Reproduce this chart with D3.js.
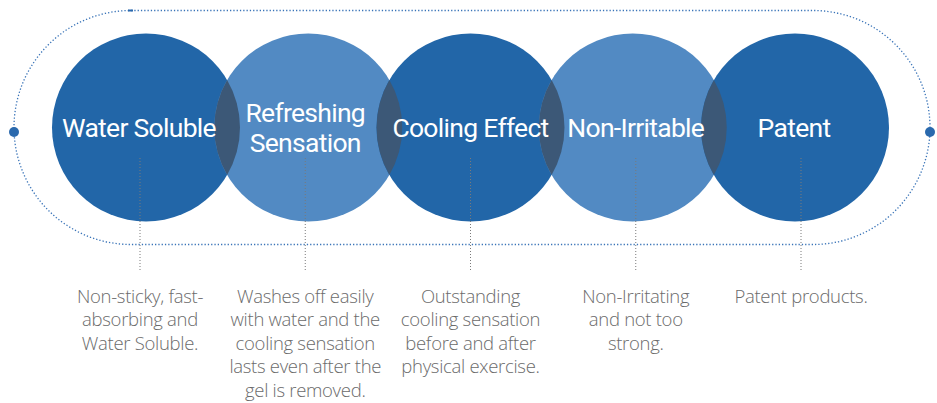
<!DOCTYPE html>
<html>
<head>
<meta charset="utf-8">
<script src="https://cdn.jsdelivr.net/npm/d3@7"></script>
<style>
  body { margin: 0; background: #fff; }
  svg { display: block; }
</style>
</head>
<body>
<div id="chart"></div>
<script>
// features shown in the circles
var labels = ["Water Soluble", "Refreshing Sensation", "Cooling Effect", "Non-Irritable", "Patent"];
var labelLines = [["Water Soluble"], ["Refreshing", "Sensation"], ["Cooling Effect"], ["Non-Irritable"], ["Patent"]];
var shades = ["dark", "light", "dark", "light", "dark"];
var descriptions = [
  ["Non-sticky, fast-", "absorbing and", "Water Soluble."],
  ["Washes off easily", "with water and the", "cooling sensation", "lasts even after the", "gel is removed."],
  ["Outstanding", "cooling sensation", "before and after", "physical exercise."],
  ["Non-Irritating", "and not too", "strong."],
  ["Patent products."]
];

var width = 937, height = 403;
var cy = 127.5, r = 94;
var colors = { dark: "#2266a8", light: "#528ac3" };

var svg = d3.select("#chart").append("svg")
    .attr("width", width)
    .attr("height", height);

// circle centres and annotation columns
var x = d3.scalePoint().domain(labels).range([146, 795]);
var xNote = d3.scalePoint().domain(labels).range([140, 801]);

// dotted stadium outline
svg.append("rect")
    .attr("x", 14).attr("y", 10.5)
    .attr("width", 916).attr("height", 234)
    .attr("rx", 117).attr("ry", 117)
    .attr("fill", "none")
    .attr("stroke", "#3a74b8")
    .attr("stroke-width", 1.3)
    .attr("stroke-dasharray", "1.3,2");

// end dots
svg.selectAll(".end-dot")
  .data([14, 930])
  .enter().append("circle")
    .attr("class", "end-dot")
    .attr("cx", d => d).attr("cy", 132)
    .attr("r", 5)
    .attr("fill", "#2a69ad");

svg.append("rect")
    .attr("x", 128).attr("y", 9.5)
    .attr("width", 5).attr("height", 2)
    .attr("fill", "#2a69ad");

// circles
svg.selectAll(".bubble")
  .data(labels)
  .enter().append("circle")
    .attr("class", "bubble")
    .attr("cx", d => x(d)).attr("cy", cy)
    .attr("r", r)
    .attr("fill", (d, i) => colors[shades[i]]);

// overlaps
var pairs = d3.pairs(labels);
svg.selectAll(".lens")
  .data(pairs)
  .enter().append("path")
    .attr("class", "lens")
    .attr("fill", "#3c5877")
    .attr("d", function(p) {
      var x0 = x(p[0]), x1 = x(p[1]);
      var mx = (x0 + x1) / 2, a = (x1 - x0) / 2;
      var h = Math.sqrt(r * r - a * a);
      return "M" + mx + "," + (cy - h) +
             "A" + r + "," + r + " 0 0 1 " + mx + "," + (cy + h) +
             "A" + r + "," + r + " 0 0 1 " + mx + "," + (cy - h) + "Z";
    });

// labels
var lab = svg.selectAll(".label")
  .data(labels)
  .enter().append("text")
    .attr("class", "label")
    .attr("text-anchor", "middle")
    .attr("fill", "#fff")
    .style("font-family", "Roboto, sans-serif")
    .style("font-size", "26.5px")
    .style("letter-spacing", "-0.7px");

lab.each(function(d, i) {
  var lines = labelLines[i];
  var t = d3.select(this);
  var y0 = cy + 9.5 - (lines.length - 1) * 15;
  lines.forEach(function(s, j) {
    t.append("tspan")
      .attr("x", i == 0 ? 139 : i == 4 ? 794 : xNote(d))
      .attr("y", y0 + j * 30)
      .text(s);
  });
});

// dotted connectors
svg.selectAll(".connector")
  .data(labels)
  .enter().append("line")
    .attr("class", "connector")
    .attr("x1", d => xNote(d)).attr("x2", d => xNote(d))
    .attr("y1", 158).attr("y2", 271)
    .attr("stroke", "#7a7a7a")
    .attr("stroke-width", 1)
    .attr("stroke-dasharray", "1,2");

// descriptions
var desc = svg.selectAll(".desc")
  .data(labels)
  .enter().append("text")
    .attr("class", "desc")
    .attr("text-anchor", "middle")
    .attr("fill", "#6b6b6b")
    .style("font-family", "'Open Sans', sans-serif")
    .style("font-weight", 300)
    .style("font-size", "18.5px")
    .style("letter-spacing", "-0.3px");

desc.each(function(d, i) {
  var t = d3.select(this);
  descriptions[i].forEach(function(s, j) {
    t.append("tspan")
      .attr("x", xNote(d))
      .attr("y", 302.5 + j * 23.5)
      .text(s);
  });
});
</script>
</body>
</html>
